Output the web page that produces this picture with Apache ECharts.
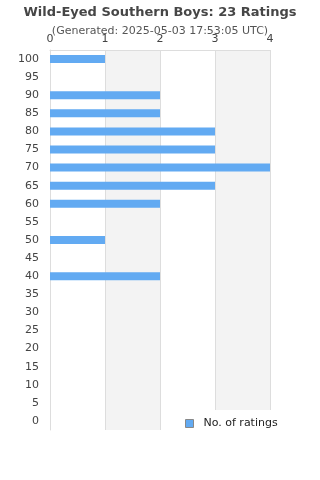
<!DOCTYPE html>
<html><head><meta charset="utf-8">
<script src="https://cdn.jsdelivr.net/npm/echarts@6/dist/echarts.min.js"></script>
<style>html,body{margin:0;padding:0;background:#fff}#c{width:320px;height:480px}</style>
</head><body><div id="c"></div>
<script>
const categories = ['0','5','10','15','20','25','30','35','40','45','50','55','60','65','70','75','80','85','90','95','100'];
const ratings = [0,0,0,0,0,0,0,0,2,0,1,0,2,3,4,3,3,2,2,0,1];
const xTicks = [0,1,2,3,4];
const titleText = 'Wild-Eyed Southern Boys: 23 Ratings';
const subText = '(Generated: 2025-05-03 17:53:05 UTC)';
const seriesName = 'No. of ratings';

const chart = echarts.init(document.getElementById('c'), null, {renderer:'canvas'});
chart.setOption({
  animation:false,
  textStyle:{fontFamily:'DejaVu Sans'},
  title:{text:titleText, subtext:subText, left:'center', top:1,
    itemGap:7,
    textStyle:{fontFamily:'DejaVu Sans', fontSize:13, fontWeight:'bold', color:'#464646'},
    subtextStyle:{fontFamily:'DejaVu Sans', fontSize:11, color:'#555'}},
  grid:{left:50, right:50, top:50, bottom:50, containLabel:false},
  legend:{data:[{name:seriesName, icon:'rect', itemStyle:{color:'#62aaf2', borderColor:'#888', borderWidth:1}}],
    left:178, top:410, orient:'horizontal',
    backgroundColor:'#fff', padding:[8,7,8,7],
    itemWidth:8, itemHeight:8,
    textStyle:{fontFamily:'DejaVu Sans', fontSize:11, color:'#222', padding:[0,0,0,5]}},
  xAxis:{type:'value', position:'top', min:xTicks[0], max:xTicks[xTicks.length-1], interval:1,
    axisLine:{show:true, lineStyle:{color:'#ddd'}},
    axisTick:{show:false},
    axisLabel:{margin:5, color:'#444', fontSize:11, fontFamily:'DejaVu Sans'},
    splitLine:{show:true, lineStyle:{color:'#ddd'}},
    splitArea:{show:true, areaStyle:{color:['#fff','#f3f3f3']}}},
  yAxis:{type:'category', data:categories,
    axisLine:{show:true, lineStyle:{color:'#ddd'}},
    axisTick:{show:false},
    axisLabel:{margin:11, color:'#444', fontSize:11, fontFamily:'DejaVu Sans', interval:0}},
  series:[{name:seriesName, type:'bar', data:ratings, barWidth:8,
    itemStyle:{color:'#62aaf2', borderWidth:0}}]
});
</script></body></html>
